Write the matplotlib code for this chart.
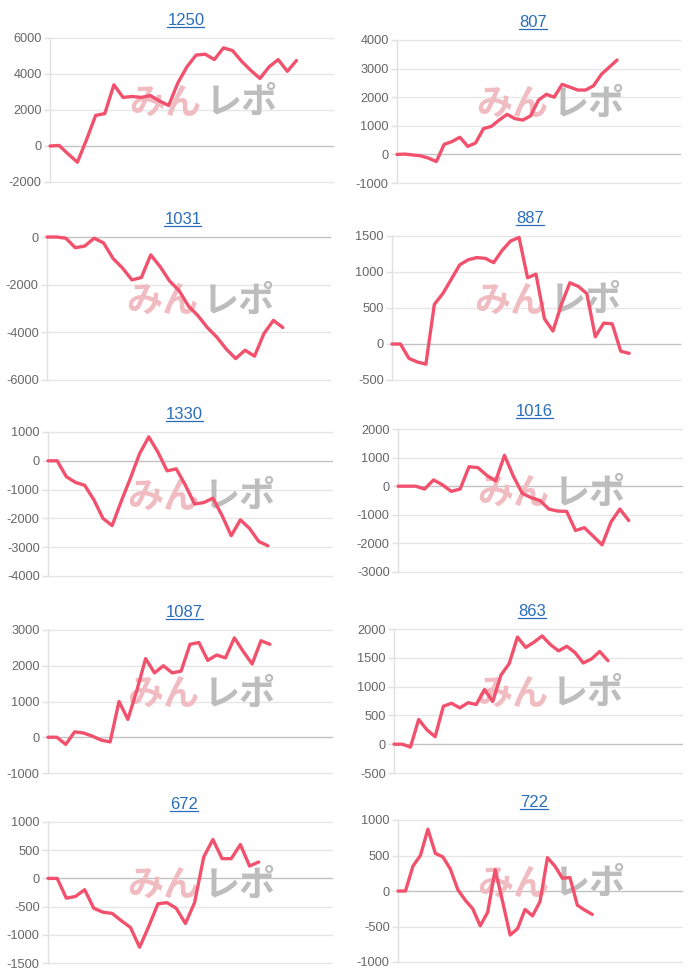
import matplotlib
matplotlib.use('Agg')
import matplotlib.pyplot as plt
from matplotlib.lines import Line2D
from matplotlib.transforms import IdentityTransform

plt.rcParams['font.family'] = ['Liberation Sans', 'DejaVu Sans']

# ---------------- data ----------------
titles = ['1250', '807', '1031', '887', '1330', '1016', '1087', '863', '672', '722']

s1250 = [0, 30, -450, -900, 350, 1700, 1800, 3400, 2700, 2750, 2700, 2800, 2500, 2250,
         3500, 4400, 5050, 5100, 4800, 5450, 5300, 4700, 4200, 3750, 4400, 4800, 4150, 4750]
s807 = [0, 10, -20, -50, -130, -250, 350, 450, 600, 280, 400, 900, 980, 1200, 1400, 1250,
        1200, 1350, 1900, 2100, 2000, 2450, 2350, 2250, 2250, 2400, 2800, 3050, 3300]
s1031 = [0, 0, -50, -450, -380, -50, -250, -900, -1300, -1800, -1700, -750, -1250, -1850,
         -2250, -2900, -3300, -3800, -4200, -4700, -5100, -4750, -5000, -4050, -3500, -3800]
s887 = [0, 0, -200, -250, -280, 550, 700, 900, 1100, 1170, 1200, 1190, 1130, 1300, 1430,
        1480, 920, 970, 350, 180, 550, 850, 800, 700, 100, 290, 280, -100, -130]
s1330 = [0, 0, -550, -750, -850, -1350, -2000, -2250, -1400, -600, 250, 830, 300, -350,
         -280, -850, -1500, -1450, -1300, -1900, -2600, -2050, -2350, -2800, -2950]
s1016 = [0, 0, 0, -100, 220, 50, -180, -100, 680, 650, 380, 180, 1080, 350, -250, -400,
         -500, -800, -870, -880, -1550, -1450, -1750, -2050, -1250, -800, -1200]
s1087 = [0, 0, -200, 150, 120, 30, -80, -130, 1000, 500, 1300, 2200, 1800, 2000, 1800,
         1850, 2600, 2650, 2150, 2300, 2220, 2780, 2400, 2050, 2700, 2600]
s863 = [0, 0, -50, 430, 250, 130, 660, 710, 630, 720, 690, 950, 740, 1200, 1400, 1860,
        1680, 1770, 1880, 1730, 1620, 1700, 1590, 1410, 1480, 1610, 1450]
s672 = [0, 0, -350, -320, -200, -530, -600, -620, -750, -870, -1220, -850, -450, -430,
        -530, -800, -430, 380, 690, 350, 350, 600, 220, 290]
s722 = [0, 0, 350, 500, 870, 530, 480, 310, 20, -130, -250, -490, -300, 300, -150, -620,
        -530, -260, -350, -150, 470, 350, 180, 190, -200, -270, -330]

series = [s1250, s807, s1031, s887, s1330, s1016, s1087, s863, s672, s722]

# number of x slots on each chart's category axis
x_slots = [31, 36, 30, 34, 31, 32, 32, 35, 31, 38]

# y-axis ranges and tick steps
y_min = [-2000, -1000, -6000, -500, -4000, -3000, -1000, -500, -1500, -1000]
y_max = [6000, 4000, 0, 1500, 1000, 2000, 3000, 2000, 1000, 1000]
y_step = [2000, 1000, 2000, 500, 1000, 1000, 1000, 500, 500, 500]

# ---------------- layout (pixels: left, right, top, bottom) ----------------
W, H = 700, 977
boxes = [
    (50, 333, 38, 182), (397, 680, 40, 183),
    (47, 330, 237, 380), (392, 680, 236, 380),
    (48, 332, 432, 576), (398, 682, 429, 572),
    (48, 332, 630, 773), (394, 682, 629, 773),
    (48, 332, 822, 963), (398, 682, 820, 962),
]

LINE = '#f2516d'
GRID = '#e6e6e6'
ZERO = '#c2c2c2'
TICK = '#666666'
TITLE = '#2a6ebb'
PAD_PX = 13

fig = plt.figure(figsize=(W / 100, H / 100), dpi=100)
fig.patch.set_facecolor('white')

axes = []
for i, (l, r, t, b) in enumerate(boxes):
    ax = fig.add_axes([l / W, 1 - b / H, (r - l) / W, (b - t) / H])
    axes.append(ax)
    ys = series[i]
    xs = list(range(len(ys)))
    ax.set_xlim(0, x_slots[i])
    ax.set_ylim(y_min[i], y_max[i])
    ticks = list(range(y_min[i], y_max[i] + 1, y_step[i]))
    ax.set_yticks(ticks)
    ax.set_yticklabels([str(v) for v in ticks])
    ax.set_xticks([])
    for v in ticks:
        ax.axhline(v, color=ZERO if v == 0 else GRID, lw=1.0, zorder=1, clip_on=False)
    for s in ['top', 'right', 'bottom']:
        ax.spines[s].set_visible(False)
    ax.spines['left'].set_color('#e0e0e0')
    ax.spines['left'].set_linewidth(1.0)
    ax.tick_params(axis='y', length=4, width=1, color='#e0e0e0', labelcolor=TICK,
                   labelsize=9.2, pad=2)
    ax.set_facecolor('none')

    # watermark
    ax.text(0.535, 0.55, 'みん', transform=ax.transAxes, ha='right', va='center',
            fontsize=26, fontweight='bold', color='#f0bcc1',
            family=['Noto Sans CJK JP', 'DejaVu Sans'], zorder=2)
    ax.text(0.55, 0.55, 'レポ', transform=ax.transAxes, ha='left', va='center',
            fontsize=26, fontweight='bold', color='#bdbdbd',
            family=['Noto Sans CJK JP', 'DejaVu Sans'], zorder=2)

    ax.plot(xs, ys, color=LINE, lw=2.4, solid_joinstyle='round',
            solid_capstyle='round', zorder=5, clip_on=False)

    ax.set_title(titles[i], color=TITLE, fontsize=12, x=0.48, pad=PAD_PX * 0.72)

fig.canvas.draw()
renderer = fig.canvas.get_renderer()
for ax in axes:
    bb = ax.title.get_window_extent(renderer)
    uy = ax.bbox.y1 + PAD_PX - 1.5
    fig.add_artist(Line2D([bb.x0, bb.x1], [uy, uy], color=TITLE, lw=0.9,
                          transform=IdentityTransform()))

fig.savefig('out.png', dpi=100, facecolor='white')
